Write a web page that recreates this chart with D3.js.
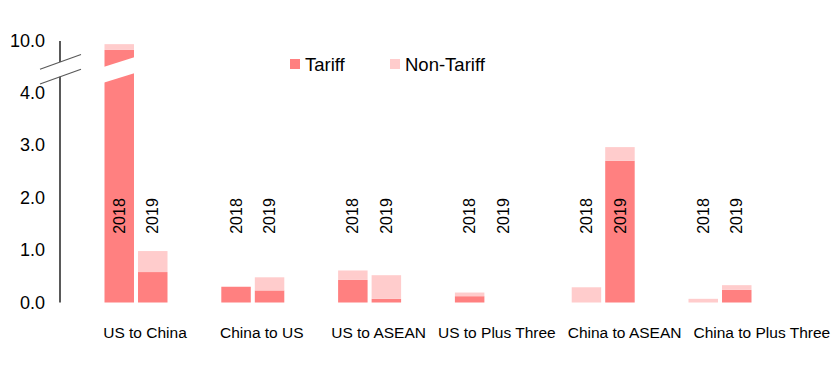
<!DOCTYPE html>
<html>
<head>
<meta charset="utf-8">
<script src="https://cdn.jsdelivr.net/npm/d3@7"></script>
<style>
  body { margin: 0; background: #fff; }
  text { font-family: "Liberation Sans", Arial, sans-serif; fill: #000; }
</style>
</head>
<body>
<script>
//chart data
var categories = ["US to China", "China to US", "US to ASEAN", "US to Plus Three", "China to ASEAN", "China to Plus Three"];
var years = ["2018", "2019"];
var seriesKeys = ["Tariff", "Non-Tariff"];
var tariff2018 = [9.83, 0.30, 0.43, 0.12, 0, 0];
var nonTariff2018 = [0.11, 0, 0.18, 0.07, 0.29, 0.07];
var tariff2019 = [0.58, 0.23, 0.07, 0, 2.70, 0.24];
var nonTariff2019 = [0.40, 0.25, 0.45, 0, 0.26, 0.09];
var tickValues = [0, 1, 2, 3, 4, 10];
var breakLow = 4.3, breakHigh = 9.6; //broken part of the value axis

window.onload = function(){
    var width = 836, height = 373;
    var colors = {"Tariff": "#ff8080", "Non-Tariff": "#ffcccc"};

    var svg = d3.select("body")
        .append("svg")
        .attr("width", width)
        .attr("height", height);

    //one row per category and year
    var rows = [];
    categories.forEach(function(c, i){
        rows.push({category: c, year: "2018", "Tariff": tariff2018[i], "Non-Tariff": nonTariff2018[i]});
        rows.push({category: c, year: "2019", "Tariff": tariff2019[i], "Non-Tariff": nonTariff2019[i]});
    });
    var stacked = d3.stack().keys(seriesKeys)(rows);

    //piecewise scale with a gap between breakLow and breakHigh
    var y = d3.scaleLinear()
        .domain([0, breakLow, breakHigh, 10])
        .range([302.5, 76.75, 62, 41]);

    var x0 = d3.scaleBand()
        .domain(categories)
        .range([77.6, 778.4]);

    var x1 = d3.scaleBand()
        .domain(years)
        .range([0, 63])
        .paddingInner(0.12);
    var innerOffset = x0.bandwidth() / 2 - 31.5;

    function barX(d){
        return x0(d.data.category) + innerOffset + x1(d.data.year);
    }

    //stacked bars
    svg.selectAll(".series")
        .data(stacked)
        .enter()
        .append("g")
        .attr("class", "series")
        .style("fill", function(d){ return colors[d.key]; })
        .selectAll("rect")
        .data(function(d){ return d.filter(function(p){ return p[1] - p[0] > 0; }); })
        .enter()
        .append("rect")
        .attr("x", barX)
        .attr("width", x1.bandwidth())
        .attr("y", function(d){ return y(d[1]); })
        .attr("height", function(d){ return y(d[0]) - y(d[1]); });

    //white slanted band where a bar runs through the break
    var slope = 0.31;
    var broken = stacked[0].filter(function(p){ return p[1] > breakHigh; });
    svg.selectAll(".barBreak")
        .data(broken)
        .enter()
        .append("polygon")
        .attr("class", "barBreak")
        .attr("fill", "#fff")
        .attr("points", function(d){
            var xl = barX(d) - 1, xr = barX(d) + x1.bandwidth() + 1;
            var xc = (xl + xr) / 2;
            var yHi = y(breakHigh), yLo = y(breakLow) + 1.2;
            return [
                [xl, yHi - slope * (xl - xc)], [xr, yHi - slope * (xr - xc)],
                [xr, yLo - slope * (xr - xc)], [xl, yLo - slope * (xl - xc)]
            ].join(" ");
        });

    //year labels, rotated, across the middle of the plot
    svg.selectAll(".yearLabel")
        .data(rows)
        .enter()
        .append("text")
        .attr("class", "yearLabel")
        .attr("text-anchor", "middle")
        .attr("dy", "0.35em")
        .style("font-size", "16px")
        .attr("transform", function(d){
            var cx = x0(d.category) + innerOffset + x1(d.year) + x1.bandwidth() / 2;
            return "translate(" + cx + ",216) rotate(-90)";
        })
        .text(function(d){ return d.year; });

    //value axis without its domain line
    var yAxis = d3.axisLeft(y)
        .tickValues(tickValues)
        .tickSize(0)
        .tickPadding(15)
        .tickFormat(d3.format(".1f"));

    var axis = svg.append("g")
        .attr("class", "axis")
        .attr("transform", "translate(60,0)")
        .call(yAxis);
    axis.select(".domain").remove();
    axis.selectAll("text")
        .style("font-size", "18px")
        .style("font-family", "'Liberation Sans', Arial, sans-serif")
        .attr("fill", "#000");

    //axis line in two pieces
    var axisParts = [[0, breakLow], [breakHigh, 10]];
    svg.selectAll(".axisPart")
        .data(axisParts)
        .enter()
        .append("line")
        .attr("class", "axisPart")
        .attr("x1", 60).attr("x2", 60)
        .attr("y1", function(d){ return y(d[0]); })
        .attr("y2", function(d){ return y(d[1]); })
        .style("stroke", "#000")
        .style("stroke-width", 1.3);

    //break marks on the axis
    svg.selectAll(".breakMark")
        .data([breakLow, breakHigh])
        .enter()
        .append("line")
        .attr("class", "breakMark")
        .attr("x1", 40).attr("x2", 81)
        .attr("y1", function(d){ return y(d) + 20 * 0.36; })
        .attr("y2", function(d){ return y(d) - 21 * 0.36; })
        .style("stroke", "#595959")
        .style("stroke-width", 1.2);

    //category labels: a bit right of each group, pushed right when they would touch
    var catLabels = svg.selectAll(".catLabel")
        .data(categories)
        .enter()
        .append("text")
        .attr("class", "catLabel")
        .attr("text-anchor", "middle")
        .attr("y", 337.5)
        .style("font-size", "15.5px")
        .text(function(d){ return d; });

    var prevRight = -Infinity;
    catLabels.each(function(d){
        var w = this.getComputedTextLength();
        var cx = x0(d) + x0.bandwidth() / 2 + 9;
        if (cx - w / 2 < prevRight + 12) cx = prevRight + 12 + w / 2;
        prevRight = cx + w / 2;
        d3.select(this).attr("x", cx);
    });

    //legend
    var legend = svg.selectAll(".legend")
        .data(seriesKeys)
        .enter()
        .append("g")
        .attr("class", "legend")
        .attr("transform", function(d, i){ return "translate(" + (290 + i * 100) + ",59)"; });
    legend.append("rect")
        .attr("width", 10)
        .attr("height", 10)
        .style("fill", function(d){ return colors[d]; });
    legend.append("text")
        .attr("x", 15)
        .attr("y", 12)
        .style("font-size", "18.5px")
        .text(function(d){ return d; });
};
</script>
</body>
</html>
